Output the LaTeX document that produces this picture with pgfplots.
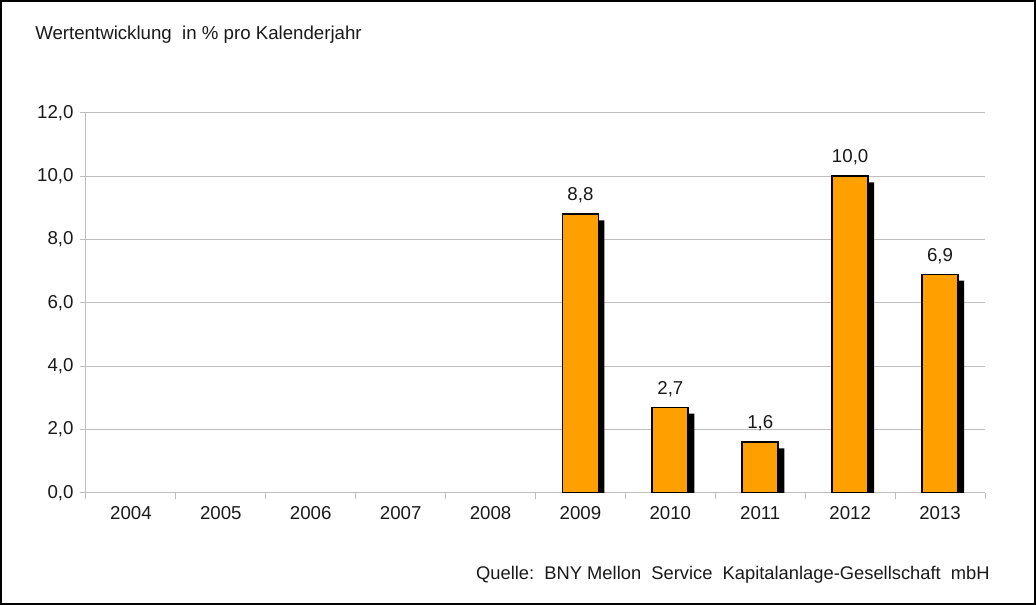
\documentclass[border=0pt]{standalone}
\usepackage{pgfplots}
\pgfplotsset{compat=1.18}
\usepackage{fontspec}
\setmainfont{Liberation Sans}
\definecolor{barorange}{RGB}{255,160,0}
\definecolor{gridgray}{RGB}{190,190,190}
\definecolor{txt}{RGB}{25,25,25}
\begin{document}
\begin{tikzpicture}[x=1pt,y=1pt]
\fontsize{14}{16}\selectfont
\draw[line width=1.5pt] (0.75,0.75) rectangle (776.25,453);
\node[anchor=base west, text=txt, inner sep=0pt] at (26.25,423.75) {\fontsize{14}{16}\selectfont Wertentwicklung\ \ in \% pro Kalenderjahr};
\node[anchor=base east, text=txt, inner sep=0pt] at (742.5,18.75) {\fontsize{13.75}{16}\selectfont Quelle:\ \ BNY\ Mellon\ \ Service\ \ Kapitalanlage-Gesellschaft\ \ mbH};
\begin{axis}[
  at={(64.5pt,84pt)}, anchor=south west,
  scale only axis, width=674.25pt, height=285pt,
  xmin=-0.5, xmax=9.5, ymin=0, ymax=12,
  ytick={0,2,...,12},
  xtick={0,...,9},
  xticklabels={2004,2005,2006,2007,2008,2009,2010,2011,2012,2013},
  minor xtick={-0.5,0.5,...,9.5},
  axis x line*=bottom, axis y line*=left,
  axis line style={gridgray, line width=0.75pt},
  ymajorgrids, grid style={gridgray, line width=0.75pt},
  tick align=outside,
  major tick length=4.5pt, minor tick length=4.5pt,
  major x tick style={draw=none},
  minor x tick style={gridgray, line width=0.75pt},
  major y tick style={gridgray, line width=0.75pt},
  ticklabel style={font=\fontsize{14}{16}\selectfont, text=txt},
  xticklabel style={yshift=-1pt},
  yticklabel style={/pgf/number format/.cd, use comma, fixed, fixed zerofill, precision=1, assume math mode=true},
  ybar, bar width=27pt,
]
\addplot[fill=black, draw=none, bar shift=4.5pt] coordinates {(5,8.61) (6,2.51) (7,1.41) (8,9.81) (9,6.71)};
\addplot[fill=barorange, draw=black, line width=1.3pt, bar shift=0pt,
  nodes near coords, nodes near coords style={font=\fontsize{14}{16}\selectfont, text=txt, yshift=3pt,
  /pgf/number format/.cd, use comma, fixed, fixed zerofill, precision=1, assume math mode=true}]
  coordinates {(5,8.8) (6,2.7) (7,1.6) (8,10.0) (9,6.9)};
\end{axis}
\end{tikzpicture}
\end{document}
